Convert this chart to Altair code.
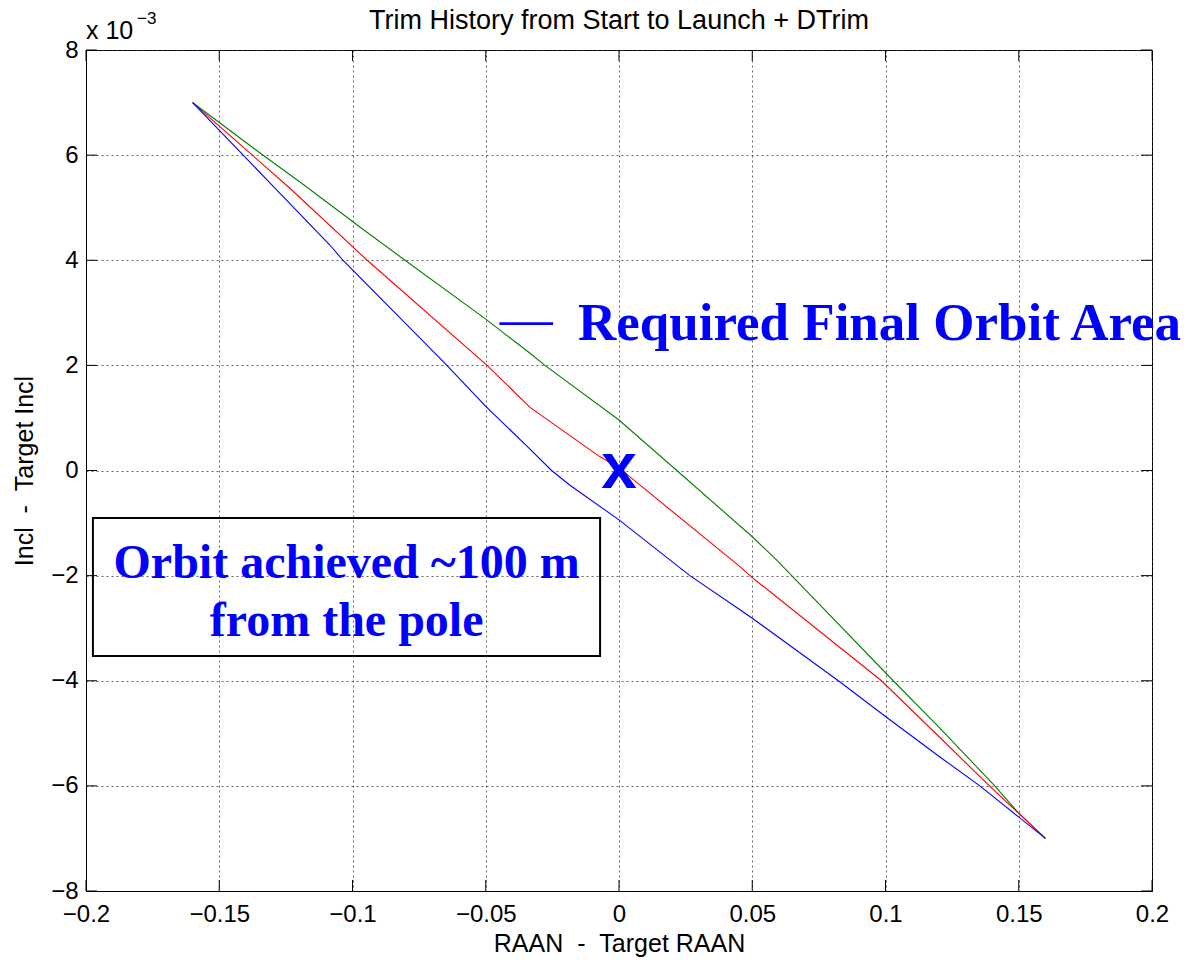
import altair as alt
import pandas as pd

# ---- data ----
green_x = [-0.16, -0.1347, -0.1197, -0.0961, -0.0803, -0.05, -0.0334, -0.0278, 0.0, 0.0217,
           0.05, 0.0591, 0.0648, 0.1029, 0.1204, 0.141, 0.15, 0.16]
green_y = [7.0, 6.04, 5.49, 4.59, 4.0, 2.88, 2.23, 2.0, 0.96, 0.0,
           -1.26, -1.70, -2.0, -4.0, -4.9, -6.0, -6.52, -7.0]

red_x = [-0.16, -0.1376, -0.1235, -0.0945, -0.0495, -0.0334, -0.0071, 0.0,
         0.0454, 0.0491, 0.0985, 0.1204, 0.1384, 0.16]
red_y = [7.0, 6.0, 5.37, 4.0, 2.0, 1.2, 0.26, 0.05,
         -1.83, -2.0, -4.0, -5.08, -5.97, -7.0]

blue_x = [-0.16, -0.141, -0.1291, -0.1085, -0.1036, -0.0653, -0.05, -0.0353,
          -0.0253, -0.0184, 0.0, 0.0266, 0.0454, 0.05, 0.0823, 0.1, 0.1204, 0.1354, 0.16]
blue_y = [7.0, 6.0, 5.37, 4.29, 4.0, 2.04, 1.22, 0.5,
          0.0, -0.28, -0.94, -2.0, -2.65, -2.81, -4.0, -4.68, -5.45, -6.0, -7.0]

series_names = ["green", "red", "blue"]
series_colors = ["#008000", "#FF0000", "#0000FF"]

x_ticks = [-0.2, -0.15, -0.1, -0.05, 0.0, 0.05, 0.1, 0.15, 0.2]
y_ticks = [-8, -6, -4, -2, 0, 2, 4, 6, 8]

title_text = "Trim History from Start to Launch + DTrim"
x_title = "RAAN\u00a0\u00a0-\u00a0\u00a0Target RAAN"
y_title = "Incl\u00a0\u00a0-\u00a0\u00a0Target Incl"

# annotations (data coordinates)
mark_x = [0.0]
mark_y = [0.0]
area_dash_x = [-0.0447]
area_text_x = [-0.0154]
area_y = [2.48]
box_x1, box_x2, box_y1, box_y2 = [-0.1974], [-0.0071], [-0.904], [-3.53]
box_lines = ["Orbit achieved ~100 m", "from the pole"]
box_line_x = [-0.1022, -0.1022]
box_line_y = [-2.05, -3.15]

# ---- build ----
W, H = 1066, 841
FONT = "Liberation Sans"
SERIF = "Liberation Serif"

rows = []
for name, xs, ys in [("green", green_x, green_y), ("red", red_x, red_y), ("blue", blue_x, blue_y)]:
    for i, (xv, yv) in enumerate(zip(xs, ys)):
        rows.append({"series": name, "x": xv, "y": yv, "order": i})
df = pd.DataFrame(rows)

xscale = alt.Scale(domain=[-0.2, 0.2], nice=False, zero=False)
yscale = alt.Scale(domain=[-8, 8], nice=False, zero=False)

axis_common = dict(
    grid=True, gridDash=[2, 3], gridColor="#333333", gridWidth=1, gridOpacity=0.75,
    ticks=False, domain=True, domainColor="black", domainWidth=1,
    labelFont=FONT, labelFontSize=24, labelColor="black", labelFlush=False,
    labelOverlap=False,
    titleFont=FONT, titleFontSize=25, titleFontWeight="normal", titleColor="black",
    format="~g",
)
xaxis = alt.Axis(values=x_ticks, title=x_title, labelPadding=11, titlePadding=5, **axis_common)
yaxis = alt.Axis(values=y_ticks, title=y_title, labelPadding=8, titlePadding=13, **axis_common)


def X(field):
    return alt.X(field, scale=xscale, axis=xaxis)


def Y(field):
    return alt.Y(field, scale=yscale, axis=yaxis)


lines = alt.Chart(df).mark_line(strokeWidth=1.1).encode(
    x=X("x:Q"),
    y=Y("y:Q"),
    color=alt.Color("series:N", scale=alt.Scale(domain=series_names, range=series_colors), legend=None),
    order="order:Q",
    detail="series:N",
)

xt = pd.DataFrame({"x": x_ticks})
yt = pd.DataFrame({"y": y_ticks})
TL = 11
tick_bottom = alt.Chart(xt).mark_rule(color="black", strokeWidth=1).encode(
    x=X("x:Q"), y=alt.value(H), y2=alt.value(H - TL))
tick_top = alt.Chart(xt).mark_rule(color="black", strokeWidth=1).encode(
    x=X("x:Q"), y=alt.value(0), y2=alt.value(TL))
tick_left = alt.Chart(yt).mark_rule(color="black", strokeWidth=1).encode(
    y=Y("y:Q"), x=alt.value(0), x2=alt.value(TL))
tick_right = alt.Chart(yt).mark_rule(color="black", strokeWidth=1).encode(
    y=Y("y:Q"), x=alt.value(W), x2=alt.value(W - TL))

# exponent label
exp_base = alt.Chart(pd.DataFrame({"t": ["x 10"]})).mark_text(
    font=FONT, fontSize=25, align="left", baseline="alphabetic", color="black"
).encode(text="t:N", x=alt.value(0), y=alt.value(-11))
exp_sup = alt.Chart(pd.DataFrame({"t": ["\u22123"]})).mark_text(
    font=FONT, fontSize=17, align="left", baseline="alphabetic", color="black"
).encode(text="t:N", x=alt.value(51), y=alt.value(-26))

title_mark = alt.Chart(pd.DataFrame({"t": [title_text]})).mark_text(
    font=FONT, fontSize=27, align="center", baseline="alphabetic", color="black"
).encode(text="t:N", x=alt.value(W / 2), y=alt.value(-21))

# annotations
x_mark = alt.Chart(pd.DataFrame({"x": mark_x, "y": mark_y, "t": ["x"]})).mark_text(
    font=FONT, fontSize=64, fontWeight="bold", color="#0000FF", align="center",
    baseline="alphabetic", dy=17
).encode(x=X("x:Q"), y=Y("y:Q"), text="t:N")

dash = alt.Chart(pd.DataFrame({"x": area_dash_x, "y": area_y, "t": ["\u2014"]})).mark_text(
    font=SERIF, fontSize=53, fontWeight="normal", color="#0000FF", align="left", baseline="alphabetic", dy=-4
).encode(x=X("x:Q"), y=Y("y:Q"), text="t:N")

area_text = alt.Chart(pd.DataFrame({"x": area_text_x, "y": area_y, "t": ["Required Final Orbit Area"]})).mark_text(
    font=SERIF, fontSize=53, fontWeight="bold", color="#0000FF", align="left", baseline="alphabetic"
).encode(x=X("x:Q"), y=Y("y:Q"), text="t:N")

box = alt.Chart(pd.DataFrame({"x": box_x1, "x2": box_x2, "y": box_y1, "y2": box_y2})).mark_rect(
    filled=False, stroke="black", strokeWidth=2
).encode(x=X("x:Q"), x2="x2:Q", y=Y("y:Q"), y2="y2:Q")

box_text = alt.Chart(pd.DataFrame({"x": box_line_x, "y": box_line_y, "t": box_lines})).mark_text(
    font=SERIF, fontSize=48, fontWeight="bold", color="#0000FF", align="center", baseline="alphabetic"
).encode(x=X("x:Q"), y=Y("y:Q"), text="t:N")

chart = alt.layer(
    lines, tick_bottom, tick_top, tick_left, tick_right,
    exp_base, exp_sup, title_mark, box, box_text, x_mark, dash, area_text
).properties(
    width=W, height=H,
    autosize=alt.AutoSizeParams(type="none"),
    padding={"left": 86, "top": 50, "right": 40, "bottom": 69},
    background="white",
).configure_view(stroke="black", strokeWidth=1)

chart.save("out.html", embed_options={"renderer": "svg", "actions": False})
